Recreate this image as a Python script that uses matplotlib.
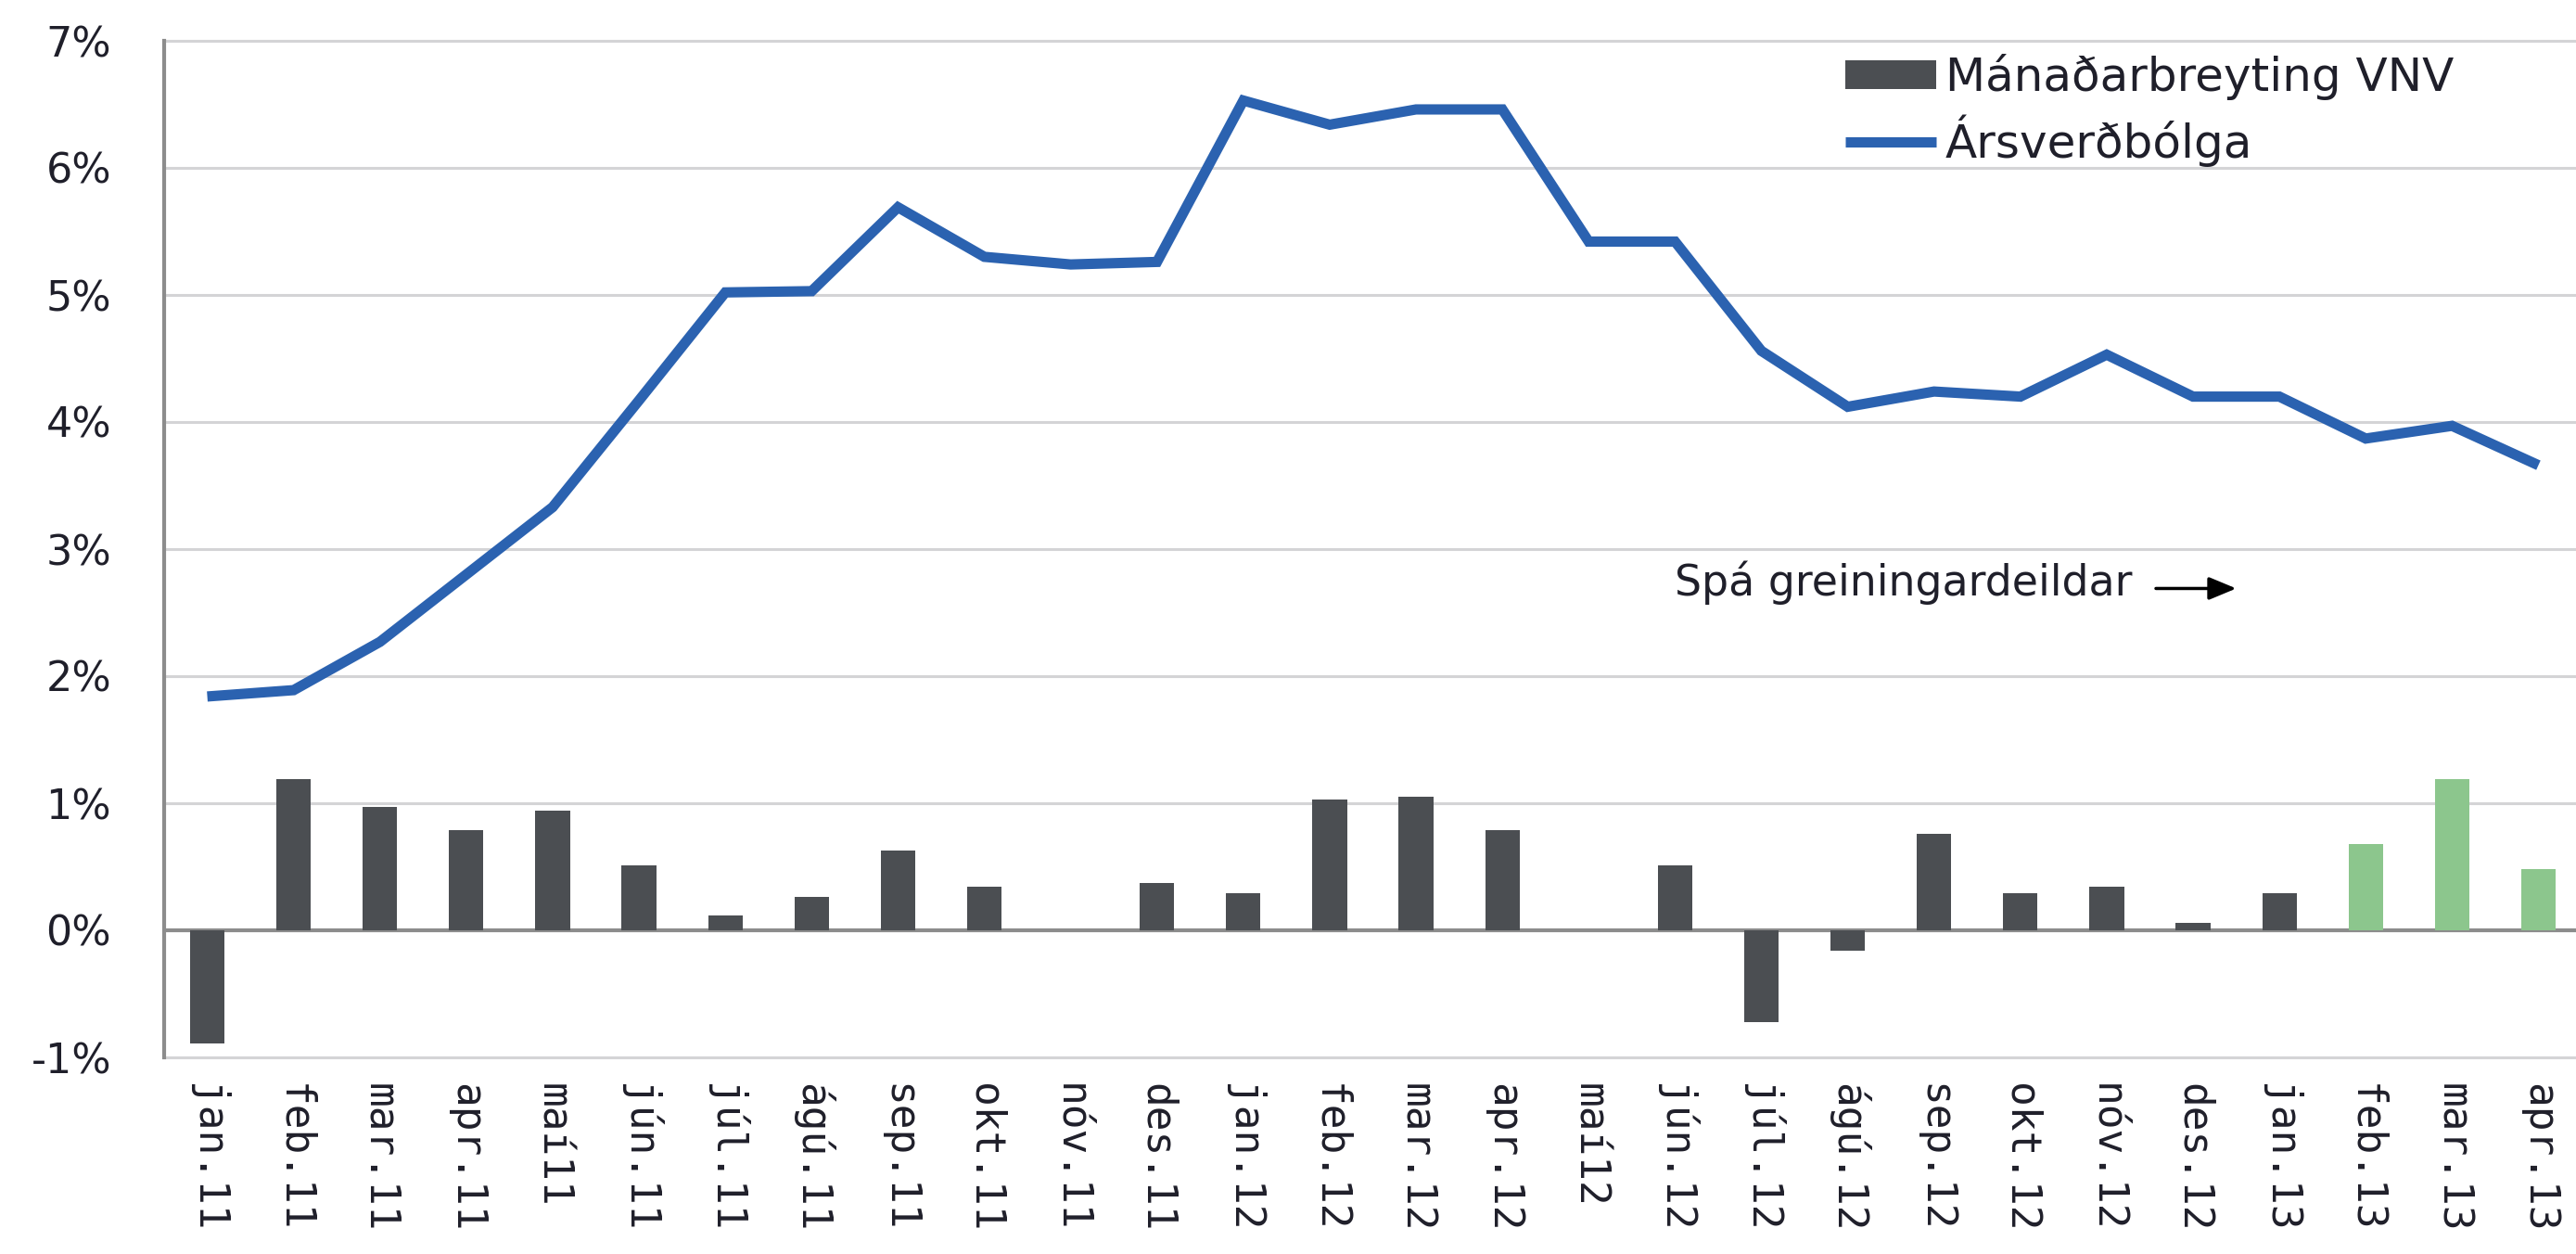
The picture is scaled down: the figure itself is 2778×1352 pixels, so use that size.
import matplotlib
matplotlib.use("Agg")
import matplotlib.pyplot as plt
from matplotlib.ticker import FuncFormatter

# ---- data ----
categories = ["jan.11", "feb.11", "mar.11", "apr.11", "maí11", "jún.11", "júl.11",
              "ágú.11", "sep.11", "okt.11", "nóv.11", "des.11", "jan.12", "feb.12",
              "mar.12", "apr.12", "maí12", "jún.12", "júl.12", "ágú.12", "sep.12",
              "okt.12", "nóv.12", "des.12", "jan.13", "feb.13", "mar.13", "apr.13"]

monthly_change = [-0.89, 1.19, 0.97, 0.79, 0.94, 0.51, 0.12, 0.26, 0.63, 0.34, 0.0,
                  0.37, 0.29, 1.03, 1.05, 0.79, 0.0, 0.51, -0.72, -0.16, 0.76, 0.29,
                  0.34, 0.06, 0.29, 0.68, 1.19, 0.48]

annual_inflation = [1.84, 1.89, 2.27, 2.80, 3.33, 4.17, 5.02, 5.03, 5.69, 5.30, 5.24,
                    5.26, 6.53, 6.34, 6.46, 6.46, 5.42, 5.42, 4.56, 4.12, 4.24, 4.20,
                    4.53, 4.20, 4.20, 3.87, 3.97, 3.66]

forecast = [False] * 25 + [True] * 3  # feb.13 - apr.13 are forecasts

legend_labels = ["Mánaðarbreyting VNV", "Ársverðbólga"]
annotation_text = "Spá greiningardeildar"
yticks = list(range(-1, 8))

# ---- style ----
W, H = 2778, 1352
bar_dark = "#4b4e52"
bar_green = "#8cc68d"
line_blue = "#2b62b0"
grid_col = "#d4d4d6"
axis_col = "#8c8c8c"
txt_col = "#1f1f2a"

plt.rcParams["font.family"] = ["DejaVu Sans"]

fig = plt.figure(figsize=(W / 100, H / 100), dpi=100)
fig.patch.set_facecolor("white")
left_px, right_px, top_px, bot_px = 177, 2784, 44, 1140
ax = fig.add_axes([left_px / W, 1 - bot_px / H, (right_px - left_px) / W, (bot_px - top_px) / H])

x = list(range(len(categories)))
colors = [bar_green if f else bar_dark for f in forecast]
bars = ax.bar(x, monthly_change, width=0.4, color=colors, zorder=2,
              label=legend_labels[0])
line, = ax.plot(x, annual_inflation, color=line_blue, lw=8, zorder=3,
                solid_joinstyle="miter", solid_capstyle="butt", label=legend_labels[1])

ax.set_xlim(-0.5, len(categories) - 0.5)
ax.set_ylim(-1, 7)

# gridlines
for yv in yticks:
    if yv == 0:
        ax.axhline(yv, color=axis_col, lw=3, zorder=1.5)
    else:
        ax.axhline(yv, color=grid_col, lw=2.2, zorder=1, clip_on=False)

for s in ["top", "right", "bottom"]:
    ax.spines[s].set_visible(False)
ax.spines["left"].set_color(axis_col)
ax.spines["left"].set_linewidth(3)

ax.set_yticks(yticks)
ax.yaxis.set_major_formatter(FuncFormatter(lambda v, p: f"{int(v)}%"))
ax.tick_params(axis="y", length=0, pad=41, labelsize=32, labelcolor=txt_col)

ax.set_xticks(x)
ax.set_xticklabels(categories, rotation=-90, va="top", ha="center",
                   fontfamily="DejaVu Sans Mono", fontsize=32, color=txt_col)
ax.tick_params(axis="x", length=0, pad=20)

# annotation
ax.text(17.0, 2.635, annotation_text, fontsize=33, color=txt_col,
        ha="left", va="baseline")
ax.annotate("", xy=(23.5, 2.69), xytext=(22.57, 2.69),
            arrowprops=dict(arrowstyle="-|>,head_length=0.6,head_width=0.25",
                            color="black", lw=2.5, mutation_scale=30,
                            shrinkA=0, shrinkB=0))

# legend
leg = fig.legend([bars, line], legend_labels, loc="upper left",
                 bbox_to_anchor=(1990 / W, 1 - 58 / H), bbox_transform=fig.transFigure,
                 frameon=False, fontsize=36, handlelength=1.95, handleheight=0.6,
                 handletextpad=0.2, labelspacing=0.3, borderpad=0, borderaxespad=0)
for t in leg.get_texts():
    t.set_color(txt_col)

fig.savefig("out.png", dpi=100, facecolor="white")
